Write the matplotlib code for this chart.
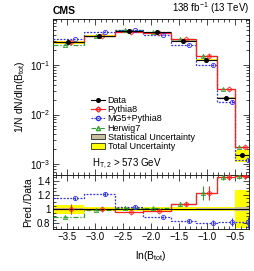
import numpy as np
import matplotlib
matplotlib.use("Agg")
import matplotlib.pyplot as plt
from matplotlib.ticker import MultipleLocator, LogLocator, NullFormatter, FixedLocator
from matplotlib.patches import Patch
from matplotlib.lines import Line2D

plt.rcParams['font.family'] = ['Liberation Sans', 'DejaVu Sans']
plt.rcParams['mathtext.fontset'] = 'custom'
plt.rcParams['mathtext.rm'] = 'Liberation Sans'
plt.rcParams['mathtext.it'] = 'Liberation Sans'

# bin edges in ln(B_tot)
edges = [-3.75, -3.2, -2.65, -2.15, -1.65, -1.2, -0.82, -0.5, -0.25]

# normalised distributions, 1/N dN/dln(B_tot)
data = [0.29, 0.385, 0.49, 0.46, 0.31, 0.126, 0.022, 0.0015]
pythia8 = [0.29, 0.385, 0.47, 0.449, 0.332, 0.155, 0.0321, 0.0022]
mg5 = [0.334, 0.466, 0.505, 0.409, 0.257, 0.101, 0.018, 0.00122]
herwig7 = [0.258, 0.381, 0.50, 0.465, 0.332, 0.154, 0.0321, 0.0022]

# relative uncertainties of the data
stat_unc = [0.01, 0.005, 0.005, 0.005, 0.008, 0.01, 0.015, 0.03]
tot_unc = [0.065, 0.025, 0.025, 0.025, 0.025, 0.03, 0.03, 0.27]

# relative stat. uncertainties of the MC
pythia8_unc = [0.07, 0.02, 0.02, 0.02, 0.03, 0.08, 0.03, 0.03]
mg5_unc = [0.02, 0.02, 0.02, 0.01, 0.03, 0.05, 0.07, 0.1]
herwig7_unc = [0.02, 0.02, 0.02, 0.02, 0.03, 0.08, 0.03, 0.03]

edges = np.array(edges)
data = np.array(data)
centers = 0.5 * (edges[1:] + edges[:-1])
widths = edges[1:] - edges[:-1]

c_py = '#ff2020'
c_mg = '#3030ff'
c_hw = '#30a030'
c_stat = '#c8bf9f'
c_tot = '#ffff00'

fig = plt.figure(figsize=(2.54, 2.71), dpi=100)
ax = fig.add_axes([0.209, 0.354, 0.771, 0.576])
rx = fig.add_axes([0.209, 0.155, 0.771, 0.199], sharex=ax)

fs = 7

def draw(a, scale, show_data=True):
    d = data / scale
    tot = np.array(tot_unc) * d
    st = np.array(stat_unc) * d
    a.bar(centers, 2 * tot, bottom=d - tot, width=widths, color=c_tot, lw=0, zorder=1)
    a.bar(centers, 2 * st, bottom=d - st, width=widths, color=c_stat, lw=0, zorder=2)
    models = [(herwig7, herwig7_unc, c_hw, (0, (4, 1.5, 1, 1.5)), '^', -0.06),
              (mg5, mg5_unc, c_mg, (0, (1.5, 1.2)), 'o', 0.11),
              (pythia8, pythia8_unc, c_py, '-', 'D', 0.05)]
    for vals, unc, col, ls, mk, off in models:
        v = np.array(vals) / scale
        a.stairs(v, edges, color=col, ls=ls, lw=0.9, zorder=3, baseline=None)
        a.errorbar(centers + off, v, yerr=np.array(unc) * v, fmt=mk, ms=3.0 if mk != 'D' else 2.6,
                   mfc='none', mec=col, ecolor=col, elinewidth=0.8, mew=0.6, zorder=4)
    if show_data:
        a.errorbar(centers, d, xerr=widths / 2, yerr=st, fmt='o', color='black', ms=2.6,
                   elinewidth=0.8, zorder=5)

draw(ax, 1.0)
ax.set_yscale('log')
ax.set_ylim(6e-4, 0.85)
ax.set_xlim(edges[0], edges[-1])
ax.yaxis.set_major_locator(LogLocator(base=10, numticks=10))
ax.yaxis.set_minor_locator(LogLocator(base=10, subs=np.arange(2, 10), numticks=10))
ax.yaxis.set_minor_formatter(NullFormatter())
ax.set_ylabel(r'1/N dN/dln(B$_{\rm tot}$)', fontsize=7.5, labelpad=2)
plt.setp(ax.get_xticklabels(), visible=False)

draw(rx, data, show_data=False)
rx.axhline(1.0, color='black', lw=0.8, zorder=4)
rx.set_ylim(0.72, 1.48)
rx.yaxis.set_major_locator(FixedLocator([0.8, 1.0, 1.2, 1.4]))
rx.yaxis.set_minor_locator(MultipleLocator(0.05))
rx.set_yticklabels(['0.8', '1', '1.2', '1.4'])
rx.set_ylabel('Pred./Data', fontsize=7.5, labelpad=3)
rx.set_xlabel(r'ln(B$_{\rm tot}$)', fontsize=7.5, labelpad=5)
rx.xaxis.set_major_locator(MultipleLocator(0.5))
rx.xaxis.set_minor_locator(MultipleLocator(0.1))

for a in (ax, rx):
    a.tick_params(which='both', direction='in', top=True, right=True, labelsize=fs, width=0.5, pad=2)
    a.tick_params(which='major', length=4)
    a.tick_params(which='minor', length=2)
    for s in a.spines.values():
        s.set_linewidth(0.6)

fig.text(0.209, 0.942, 'CMS', fontsize=7.5, fontweight='bold', ha='left', va='bottom')
fig.text(0.98, 0.942, r'138 fb$^{-1}$ (13 TeV)', fontsize=7, ha='right', va='bottom')

handles = [Line2D([], [], color='black', marker='o', ms=2.6, lw=0.8),
           Line2D([], [], color=c_py, marker='D', ms=2.6, mfc='none', lw=0.8),
           Line2D([], [], color=c_mg, marker='o', ms=3.0, mfc='none', lw=0.8, ls=(0, (1.5, 1.2))),
           Line2D([], [], color=c_hw, marker='^', ms=3.0, mfc='none', lw=0.8, ls=(0, (4, 1.5, 1, 1.5))),
           Patch(facecolor=c_stat, edgecolor='black', lw=0.5),
           Patch(facecolor=c_tot, edgecolor='black', lw=0.5)]
labels = ['Data', 'Pythia8', 'MG5+Pythia8', 'Herwig7', 'Statistical Uncertainty', 'Total Uncertainty']
ax.legend(handles, labels, loc='upper left', bbox_to_anchor=(0.17, 0.535), frameon=False,
          fontsize=6.5, handlelength=1.6, handleheight=0.6, handletextpad=0.25, labelspacing=0.02,
          borderpad=0)
ax.text(0.20, 0.075, r'H$_{\rm T,2}$ > 573 GeV', transform=ax.transAxes, fontsize=7, va='center')

fig.savefig('out.png', dpi=100)
